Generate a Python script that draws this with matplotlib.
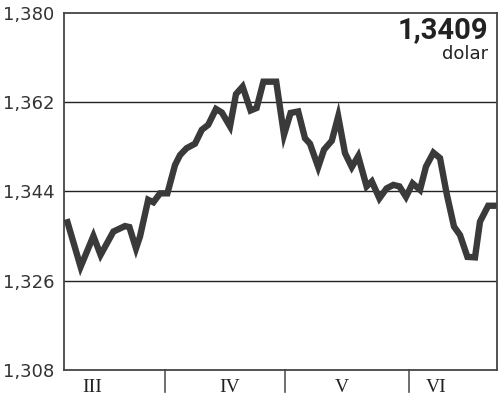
import matplotlib
matplotlib.use("Agg")
import matplotlib.pyplot as plt

# day offset relative to 1 April
days = [-24.6, -21.1, -17.9, -16.1, -12.9, -10.0, -8.9, -7.25, -6.25, -4.2,
        -2.9, -1.25, 0.6, 2.5, 3.75, 5.4, 7.5, 9.2, 10.8, 12.75,
        14.2, 16.25, 17.75, 19.4, 21.4, 22.9, 24.6, 27.8, 29.75, 31.4,
        33.3, 35.0, 36.25, 38.3, 39.75, 41.7, 43.3, 45.0, 46.7, 48.3,
        50.4, 51.7, 53.6, 55.4, 57.1, 58.6, 60.25, 61.9, 63.75, 65.25,
        67.1, 68.75, 70.4, 72.25, 73.75, 75.6, 77.5, 78.75, 80.8, 82.9]
rates = [1.3384, 1.3288, 1.3350, 1.3312, 1.3359, 1.3370, 1.3368, 1.3325, 1.3349, 1.3423,
         1.3418, 1.3436, 1.3436, 1.3493, 1.3513, 1.3527, 1.3536, 1.3564, 1.3574, 1.3606,
         1.3599, 1.3571, 1.3636, 1.3651, 1.3603, 1.3608, 1.3661, 1.3661, 1.3554, 1.3598,
         1.3601, 1.3547, 1.3536, 1.3489, 1.3524, 1.3542, 1.3591, 1.3517, 1.3489, 1.3511,
         1.3450, 1.3460, 1.3426, 1.3446, 1.3453, 1.3450, 1.3429, 1.3456, 1.3443, 1.3490,
         1.3518, 1.3507, 1.3436, 1.3369, 1.3352, 1.3308, 1.3307, 1.3379, 1.3411, 1.3411]

y_ticks = [1.308, 1.326, 1.344, 1.362, 1.380]
y_labels = ["1,308", "1,326", "1,344", "1,362", "1,380"]
month_bounds = [0, 30, 61]
month_names = ["III", "IV", "V", "VI"]
month_label_pos = [-18.1, 16.25, 44.25, 67.75]
last_value = "1,3409"
unit = "dolar"

fig = plt.figure(figsize=(5.0, 4.01), dpi=100)
ax = fig.add_axes([0.128, 0.0773, 0.866, 0.891])
ax.set_xlim(-25.25, 83.0)
ax.set_ylim(1.308, 1.380)

for yv in y_ticks[1:-1]:
    ax.axhline(yv, color="#222222", lw=1.0, zorder=1)

ax.plot(days, rates, color="#3a3a3a", lw=4.6, solid_joinstyle="miter",
        solid_capstyle="butt", zorder=3)

for s in ax.spines.values():
    s.set_color("#444444")
    s.set_linewidth(1.3)

ax.set_yticks(y_ticks)
ax.set_yticklabels(y_labels, fontsize=13, color="#333333")
ax.tick_params(axis="y", length=0, pad=7)
ax.set_xticks([])

for b in month_bounds:
    ax.plot([b, b], [0, -0.062], transform=ax.get_xaxis_transform(),
            color="#555555", lw=1.2, clip_on=False)
for pos, name in zip(month_label_pos, month_names):
    ax.text(pos, -0.05, name, transform=ax.get_xaxis_transform(),
            ha="center", va="center", fontsize=14, family="Liberation Serif",
            color="#222222")

ax.text(0.98, 0.95, last_value, transform=ax.transAxes, ha="right", va="center",
        fontsize=21, fontweight="bold", family="Roboto", color="#222222")
ax.text(0.98, 0.885, unit, transform=ax.transAxes, ha="right", va="center",
        fontsize=13, family="DejaVu Sans", color="#222222")

fig.savefig("out.png", dpi=100)
